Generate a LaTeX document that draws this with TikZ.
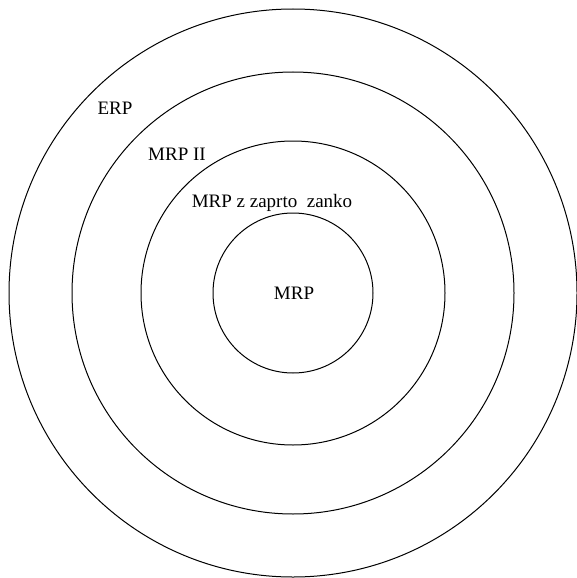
\documentclass[tikz,border=0pt]{standalone}
\usepackage{fontspec}
\setmainfont{Liberation Serif}
\begin{document}
\begin{tikzpicture}[x=1pt,y=-1pt,every node/.style={font=\fontsize{19}{22}\selectfont,inner sep=0pt},
  ring/.style={line width=1pt}]
  \useasboundingbox (0,0) rectangle (576,578);
  \coordinate (c) at (293,293);
  % nested rings
  \foreach \r in {80,152,221,284}
    \draw[ring] (c) circle[radius=\r];
  \node (erp) at (115,108) {ERP};
  \node (mrp2) at (177,154) {MRP II};
  \node (mrpz) at (272,203) {MRP z zaprto\ \ zanko};
  \node (mrp) at (294,293) {MRP};
\end{tikzpicture}
\end{document}
